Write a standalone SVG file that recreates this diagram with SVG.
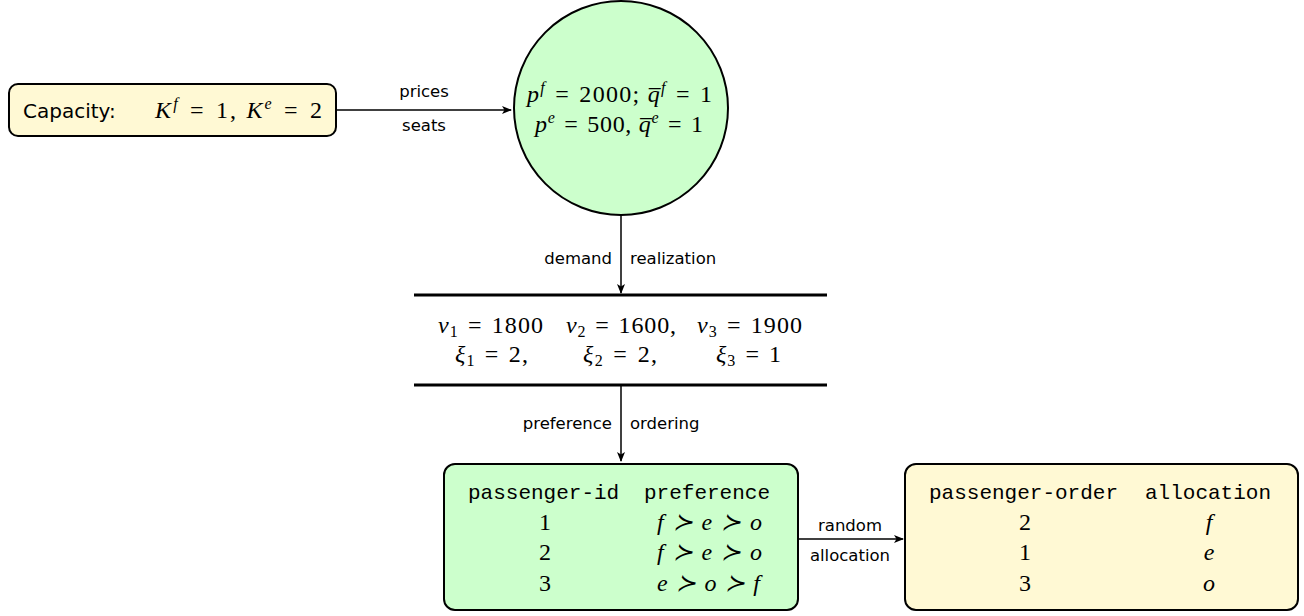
<svg xmlns="http://www.w3.org/2000/svg" width="1304" height="616" viewBox="0 0 1304 616">
<defs>
<marker id="arr" viewBox="0 0 10 10" refX="9" refY="5" markerWidth="10" markerHeight="10" markerUnits="userSpaceOnUse" orient="auto">
<path d="M0,1 L10,5 L0,9 L2.5,5 Z" fill="#000"/>
</marker>
<style>
.lbl{font-family:"DejaVu Sans","Liberation Sans",sans-serif;font-size:16.5px;fill:#000}
.sans{font-family:"DejaVu Sans","Liberation Sans",sans-serif;font-size:20px;fill:#000}
.m{font-family:"Liberation Serif","Times New Roman",serif;font-size:24px;fill:#000}
.i{font-style:italic}
.tt{font-family:"Liberation Mono","Courier New",monospace;font-size:21px;fill:#000}
.sup{font-size:16px}
.edge{stroke:#000;stroke-width:1.5;fill:none;marker-end:url(#arr)}
.box{stroke:#000;stroke-width:2}
</style>
</defs>
<rect width="1304" height="616" fill="#fff"/>
<g id="connectors">
<line class="edge" x1="337" y1="110" x2="511" y2="110"/>
<text class="lbl" x="424" y="97" text-anchor="middle">prices</text>
<text class="lbl" x="424" y="131" text-anchor="middle">seats</text>
<line class="edge" x1="621" y1="214" x2="621" y2="293"/>
<text class="lbl" x="612" y="264" text-anchor="end">demand</text>
<text class="lbl" x="630" y="264">realization</text>
<line class="edge" x1="621" y1="386" x2="621" y2="461"/>
<text class="lbl" x="612" y="429" text-anchor="end">preference</text>
<text class="lbl" x="630" y="429">ordering</text>
<line class="edge" x1="798" y1="539" x2="903" y2="539"/>
<text class="lbl" x="850" y="531" text-anchor="middle">random</text>
<text class="lbl" x="850" y="561" text-anchor="middle">allocation</text>
</g>
<g id="capacity">
<rect class="box" x="9" y="84" width="327" height="52" rx="9" fill="#fff9d4"/>
<text class="sans" x="23" y="118">Capacity:</text>
<text class="m" x="155" y="118" textLength="167" lengthAdjust="spacing"><tspan class="i">K</tspan><tspan class="i sup" dy="-9">f</tspan><tspan dy="9">&#8196;=&#8196;1, </tspan><tspan class="i">K</tspan><tspan class="i sup" dy="-9">e</tspan><tspan dy="9">&#8196;=&#8196;2</tspan></text>
</g>
<g id="prices">
<circle class="box" cx="621" cy="108" r="107" fill="#ccffcc"/>
<text class="m" x="527" y="102" textLength="185" lengthAdjust="spacing"><tspan class="i">p</tspan><tspan class="i sup" dy="-9">f</tspan><tspan dy="9">&#8196;=&#8196;2000; </tspan><tspan class="i">q̅</tspan><tspan class="i sup" dy="-9">f</tspan><tspan dy="9">&#8196;=&#8196;1</tspan></text>
<text class="m" x="535" y="132" textLength="168" lengthAdjust="spacing"><tspan class="i">p</tspan><tspan class="i sup" dy="-9">e</tspan><tspan dy="9">&#8196;=&#8196;500, </tspan><tspan class="i">q̅</tspan><tspan class="i sup" dy="-9">e</tspan><tspan dy="9">&#8196;=&#8196;1</tspan></text>
</g>
<g id="demand">
<line x1="414" y1="295" x2="827" y2="295" stroke="#000" stroke-width="3"/>
<line x1="414" y1="385" x2="827" y2="385" stroke="#000" stroke-width="3"/>
<text class="m" x="438" y="333" textLength="105" lengthAdjust="spacing"><tspan class="i">v</tspan><tspan class="sup" dy="4">1</tspan><tspan dy="-4">&#8196;=&#8196;1800</tspan></text>
<text class="m" x="566" y="333" textLength="110" lengthAdjust="spacing"><tspan class="i">v</tspan><tspan class="sup" dy="4">2</tspan><tspan dy="-4">&#8196;=&#8196;1600,</tspan></text>
<text class="m" x="697" y="333" textLength="105" lengthAdjust="spacing"><tspan class="i">v</tspan><tspan class="sup" dy="4">3</tspan><tspan dy="-4">&#8196;=&#8196;1900</tspan></text>
<text class="m" x="455" y="362" textLength="73" lengthAdjust="spacing"><tspan class="i">ξ</tspan><tspan class="sup" dy="4">1</tspan><tspan dy="-4">&#8196;=&#8196;2,</tspan></text>
<text class="m" x="583" y="362" textLength="74" lengthAdjust="spacing"><tspan class="i">ξ</tspan><tspan class="sup" dy="4">2</tspan><tspan dy="-4">&#8196;=&#8196;2,</tspan></text>
<text class="m" x="716" y="362" textLength="65" lengthAdjust="spacing"><tspan class="i">ξ</tspan><tspan class="sup" dy="4">3</tspan><tspan dy="-4">&#8196;=&#8196;1</tspan></text>
</g>
<g id="preferences">
<rect class="box" x="444" y="464" width="354" height="146" rx="11" fill="#ccffcc"/>
<text class="tt" x="468" y="499">passenger-id</text>
<text class="tt" x="644" y="499">preference</text>
<text class="m" x="545" y="530" text-anchor="middle">1</text>
<text class="m" x="545" y="560" text-anchor="middle">2</text>
<text class="m" x="545" y="591" text-anchor="middle">3</text>
<text class="m i" x="657" y="530" textLength="105" lengthAdjust="spacing">f&#8196;≻&#8196;e&#8196;≻&#8196;o</text>
<text class="m i" x="657" y="560" textLength="105" lengthAdjust="spacing">f&#8196;≻&#8196;e&#8196;≻&#8196;o</text>
<text class="m i" x="657" y="591" textLength="103" lengthAdjust="spacing">e&#8196;≻&#8196;o&#8196;≻&#8196;f</text>
</g>
<g id="allocation">
<rect class="box" x="905" y="464" width="393" height="146" rx="11" fill="#fff9d4"/>
<text class="tt" x="929" y="499">passenger-order</text>
<text class="tt" x="1145" y="499">allocation</text>
<text class="m" x="1025" y="530" text-anchor="middle">2</text>
<text class="m" x="1025" y="560" text-anchor="middle">1</text>
<text class="m" x="1025" y="591" text-anchor="middle">3</text>
<text class="m i" x="1209" y="530" text-anchor="middle">f</text>
<text class="m i" x="1209" y="560" text-anchor="middle">e</text>
<text class="m i" x="1209" y="591" text-anchor="middle">o</text>
</g>
</svg>
